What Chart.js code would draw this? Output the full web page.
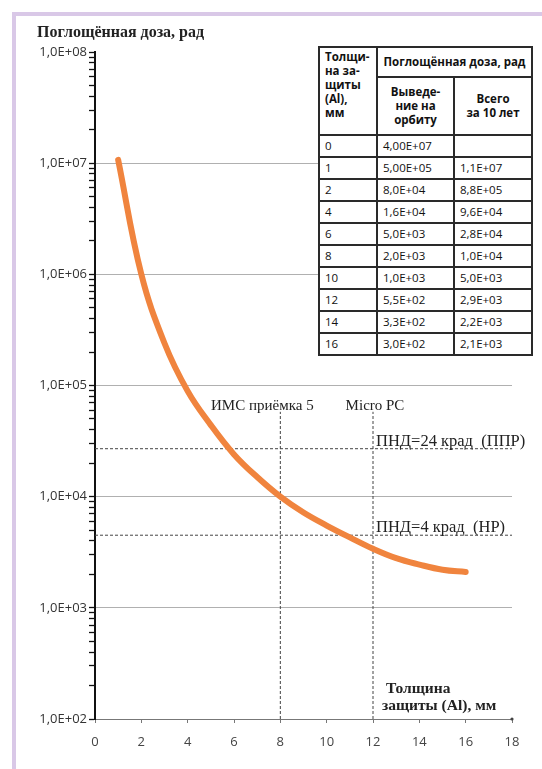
<!DOCTYPE html>
<html>
<head>
<meta charset="utf-8">
<script src="https://cdn.jsdelivr.net/npm/chart.js@4/dist/chart.umd.min.js"></script>
<style>
  html, body { margin: 0; padding: 0; background: #fff; }
  #wrap { position: relative; width: 542px; height: 769px; overflow: hidden; }
  #frame { position: absolute; left: 12px; top: 12px; right: -10px; bottom: -10px;
           border-left: 4px solid #D9C8E7; border-top: 4px solid #D9C8E7; }
  canvas { position: absolute; left: 0; top: 0; }
  .serif { position: absolute; font-family: "Liberation Serif", "DejaVu Serif", serif; font-weight: bold; color: #222; white-space: nowrap; }
  #ytitle { left: 37px; top: 23px; font-size: 16px; }
  #xtitle { left: 382px; top: 679px; font-size: 15.5px; line-height: 17px; }
  #tbl { position: absolute; left: 318px; top: 46px; border-collapse: collapse; background: #fff;
         font-family: "Open Sans", sans-serif; font-size: 11.5px; color: #111; }
  #tbl th, #tbl td { border: 2px solid #2a2a2a; padding: 0 5px; }
  #tbl th { font-weight: bold; line-height: 14px; }
  #tbl td { height: 20px; line-height: 14px; text-align: left; }
</style>
</head>
<body>
<div id="wrap">
  <div id="frame"></div>
  <canvas id="c" width="542" height="769"></canvas>
  <div id="ytitle" class="serif">Поглощённая доза, рад</div>
  <div id="xtitle" class="serif">&nbsp;Толщина<br>защиты (Al), мм</div>
  <table id="tbl">
    <thead>
      <tr>
        <th rowspan="2" style="width:46px;text-align:left;vertical-align:top;padding-top:2px;height:84px;">Толщи-<br>на за-<br>щиты<br>(Al),<br>мм</th>
        <th colspan="2" style="height:27px;text-align:center;">Поглощённая доза, рад</th>
      </tr>
      <tr>
        <th style="width:65px;height:53px;text-align:center;">Выведе-<br>ние на<br>орбиту</th>
        <th style="width:66px;text-align:center;">Всего<br>за 10 лет</th>
      </tr>
    </thead>
    <tbody id="tbody"></tbody>
  </table>
</div>
<script>
// ---- data (curve, one reading per mm) ----
const thicknessMm = [1, 2, 3, 4, 5, 6, 7, 8, 9, 10, 11, 12, 13, 14, 15, 16];
const doseCurve = [1.07e7, 1.0e6, 2.4e5, 8.9e4, 4.4e4, 2.4e4, 1.5e4, 1.0e4, 7.2e3, 5.5e3, 4.3e3, 3.4e3, 2.8e3, 2.45e3, 2.2e3, 2.1e3];

// ---- table ----
const tableThickness = ['0', '1', '2', '4', '6', '8', '10', '12', '14', '16'];
const tableOrbit = ['4,00E+07', '5,00E+05', '8,0E+04', '1,6E+04', '5,0E+03', '2,0E+03', '1,0E+03', '5,5E+02', '3,3E+02', '3,0E+02'];
const tableTotal = ['', '1,1E+07', '8,8E+05', '9,6E+04', '2,8E+04', '1,0E+04', '5,0E+03', '2,9E+03', '2,2E+03', '2,1E+03'];

const yDecades = [1e2, 1e3, 1e4, 1e5, 1e6, 1e7, 1e8];
const xTicks = [0, 2, 4, 6, 8, 10, 12, 14, 16, 18];

// reference levels
const levelPPR = 2.7e4;   // ПНД=24 крад (ППР)
const levelNR = 4.5e3;    // ПНД=4 крад (НР)
const markerX = [8, 12];  // ИМС приёмка 5, Micro PC
const markerTop = 5.8e4;
const markerLabels = ['ИМС приёмка 5', 'Micro PC'];
const levelLabels = ['ПНД=24 крад  (ППР)', 'ПНД=4 крад  (НР)'];

const tb = document.getElementById('tbody');
tableThickness.forEach((t, i) => {
  const tr = document.createElement('tr');
  [t, tableOrbit[i], tableTotal[i]].forEach(v => {
    const td = document.createElement('td'); td.textContent = v; tr.appendChild(td);
  });
  tb.appendChild(tr);
});

// ---- ticks for log axis (decades plus minor marks) ----
const yTickValues = [];
for (let d = 0; d < yDecades.length; d++) {
  yTickValues.push(yDecades[d]);
  if (d < yDecades.length - 1) for (let k = 2; k <= 9; k++) yTickValues.push(yDecades[d] * k);
}
const isDecade = v => yDecades.some(d => Math.abs(v - d) / d < 1e-9);
const fmtDecade = v => { const e = Math.round(Math.log10(v)); return '1,0E+' + (e < 10 ? '0' : '') + e; };

const dashStyle = { borderColor: '#444', borderWidth: 1, borderDash: [3, 2], pointRadius: 0, fill: false, tension: 0 };

const labelPlugin = {
  id: 'labels',
  afterDatasetsDraw(chart) {
    const { ctx, scales: { x, y } } = chart;
    ctx.save();
    ctx.fillStyle = '#222';
    ctx.textBaseline = 'alphabetic';
    ctx.font = '15px "Liberation Serif", serif';
    ctx.textAlign = 'center';
    ctx.fillText(markerLabels[0], x.getPixelForValue(markerX[0]) - 18, y.getPixelForValue(markerTop) - 2);
    ctx.fillText(markerLabels[1], x.getPixelForValue(markerX[1]) + 2, y.getPixelForValue(markerTop) - 2);
    ctx.font = '16.5px "Liberation Serif", serif';
    ctx.textAlign = 'left';
    ctx.fillText(levelLabels[0], x.getPixelForValue(markerX[1]) + 3, y.getPixelForValue(levelPPR) - 3);
    ctx.fillText(levelLabels[1], x.getPixelForValue(markerX[1]) + 3, y.getPixelForValue(levelNR) - 3);
    ctx.fillStyle = '#444';
    ctx.beginPath();
    ctx.arc(x.getPixelForValue(18), y.getPixelForValue(1e2), 1.6, 0, Math.PI * 2);
    ctx.fill();
    ctx.restore();
  }
};

new Chart(document.getElementById('c'), {
  type: 'line',
  data: {
    datasets: [
      { data: thicknessMm.map((t, i) => ({ x: t, y: doseCurve[i] })),
        borderColor: '#F0843E', borderWidth: 6, borderCapStyle: 'round', borderJoinStyle: 'round',
        pointRadius: 0, tension: 0.4, fill: false, order: 0 },
      { ...dashStyle, data: [{ x: 0, y: levelPPR }, { x: 18, y: levelPPR }], order: 1 },
      { ...dashStyle, data: [{ x: 0, y: levelNR }, { x: 18, y: levelNR }], order: 1 },
      { ...dashStyle, data: [{ x: markerX[0], y: 1e2 }, { x: markerX[0], y: markerTop }], order: 1 },
      { ...dashStyle, data: [{ x: markerX[1], y: 1e2 }, { x: markerX[1], y: markerTop }], order: 1 }
    ]
  },
  options: {
    responsive: false,
    animation: false,
    layout: { padding: { top: 52, right: 30, bottom: 0, left: 0 } },
    plugins: { legend: { display: false }, tooltip: { enabled: false }, title: { display: false } },
    scales: {
      x: {
        type: 'linear', min: 0, max: 18,
        afterBuildTicks: s => { s.ticks = xTicks.map(v => ({ value: v })); },
        afterFit: s => { s.height = 50; },
        ticks: { color: '#444', font: { family: 'Open Sans', size: 13 }, padding: 11, autoSkip: false, maxRotation: 0 },
        grid: { drawOnChartArea: false, tickColor: '#777', tickLength: 4, tickWidth: 1 },
        border: { color: '#777', width: 1 }
      },
      y: {
        type: 'logarithmic', min: 1e2, max: 1e8,
        afterBuildTicks: s => { s.ticks = yTickValues.map(v => ({ value: v, major: isDecade(v) })); },
        afterFit: s => { s.width = 95; },
        ticks: { color: '#333', font: { family: 'Open Sans', size: 13 }, padding: 2, autoSkip: false,
                 callback: v => isDecade(v) ? fmtDecade(v) : '' },
        grid: {
          color: c => (c.tick && isDecade(c.tick.value) && c.tick.value > 1e2 && c.tick.value < 1e8) ? '#b0b0b0' : 'transparent',
          lineWidth: 1, tickColor: '#111', tickLength: 6, tickWidth: 1.3
        },
        border: { color: '#111', width: 2 }
      }
    }
  },
  plugins: [labelPlugin]
});
</script>
</body>
</html>
